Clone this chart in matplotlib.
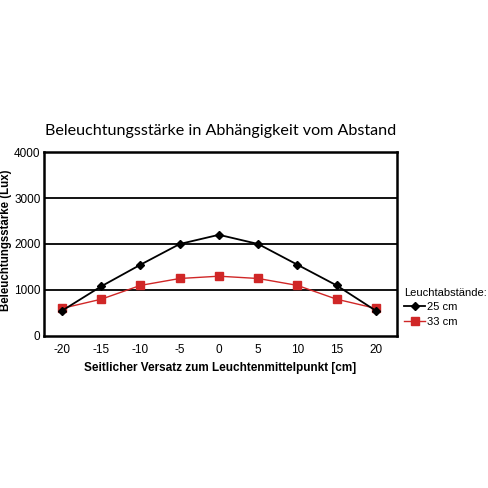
import matplotlib
matplotlib.use("Agg")
import matplotlib.pyplot as plt
from matplotlib.lines import Line2D

# Daten
versatz_cm = [-20, -15, -10, -5, 0, 5, 10, 15, 20]
lux_25cm = [550, 1080, 1550, 2000, 2200, 2000, 1550, 1100, 550]
lux_33cm = [600, 800, 1100, 1250, 1300, 1250, 1100, 800, 600]
y_ticks = [0, 1000, 2000, 3000, 4000]

RED = "#d02727"

plt.rcParams["font.family"] = ["Liberation Sans", "DejaVu Sans"]

fig = plt.figure(figsize=(4.88, 4.88), dpi=100)
ax = fig.add_axes([0.0902, 0.3115, 0.7233, 0.377])

for y in y_ticks[1:-1]:
    ax.axhline(y, color="black", lw=1.3, zorder=1)

ax.plot(versatz_cm, lux_25cm, "-D", color="black", lw=1.3, ms=4.2, zorder=3)
ax.plot(versatz_cm, lux_33cm, "-s", color=RED, mfc=RED, mec=RED, lw=1.0, ms=6, zorder=2)

ax.set_xlim(-22.3, 22.7)
ax.set_ylim(0, 4000)
ax.set_xticks(versatz_cm)
ax.set_xticklabels([str(v) for v in versatz_cm])
ax.set_yticks(y_ticks)
ax.tick_params(length=0, labelsize=8.5)
ax.tick_params(axis="x", pad=6)
ax.tick_params(axis="y", pad=2.5)
for s in ax.spines.values():
    s.set_linewidth(1.8)

ax.set_xlabel("Seitlicher Versatz zum Leuchtenmittelpunkt [cm]", fontsize=8.5, fontweight="bold", labelpad=4)
fig.text(6.5 / 488, 1 - 240 / 488, "Beleuchtungsstärke (Lux)", rotation=90,
         ha="center", va="center", fontsize=8.3, fontweight="bold")

fig.text(0.0902 + 0.7233 / 2, 0.732, "Beleuchtungsstärke in Abhängigkeit vom Abstand",
         ha="center", va="center", fontsize=11.6, family=["Lato", "DejaVu Sans"])

handles = [Line2D([], [], color="black", marker="D", ms=4, lw=1.3),
           Line2D([], [], color=RED, marker="s", ms=5.5, lw=1.0)]
leg = fig.legend(handles, ["25 cm", "33 cm"], title="Leuchtabstände:",
                 loc="upper left", bbox_to_anchor=(0.828, 0.41), frameon=False,
                 fontsize=8, title_fontsize=8, handlelength=1.9, handletextpad=0.15,
                 labelspacing=0.45, borderpad=0, borderaxespad=0)
leg._legend_box.align = "left"
leg._legend_box.sep = 3

fig.savefig("out.png", dpi=100)
